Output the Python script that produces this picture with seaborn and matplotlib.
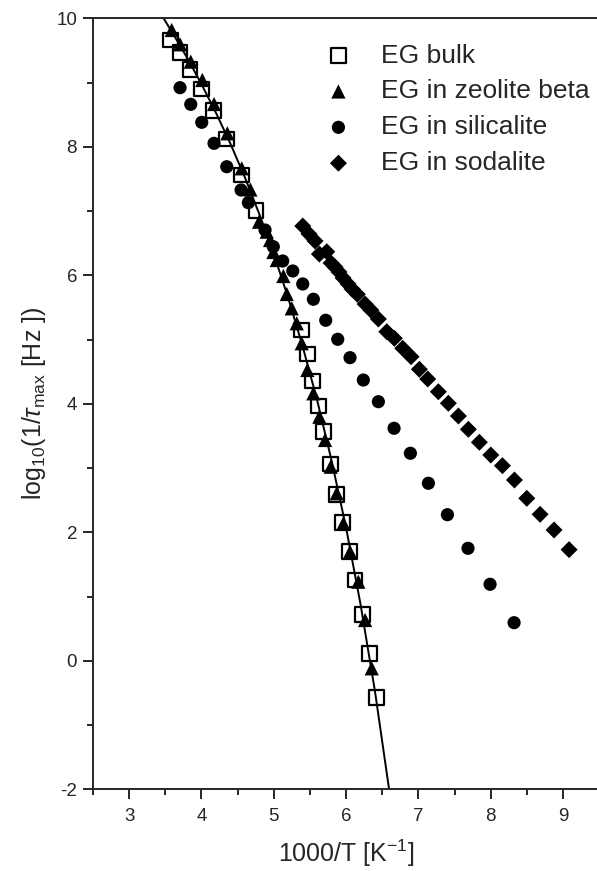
import matplotlib
matplotlib.use("Agg")
import matplotlib.pyplot as plt
from matplotlib.ticker import MultipleLocator
import seaborn as sns

# ---- data ----
bulk_x = [3.566, 3.704, 3.842, 4.004, 4.165, 4.350, 4.548, 4.755, 5.387, 5.465, 5.539,
          5.617, 5.686, 5.779, 5.862, 5.954, 6.046, 6.124, 6.225, 6.322, 6.425]
bulk_y = [9.662, 9.465, 9.206, 8.900, 8.562, 8.121, 7.561, 7.005, 5.149, 4.775, 4.355,
          3.966, 3.566, 3.063, 2.592, 2.150, 1.698, 1.257, 0.723, 0.117, -0.574]

beta_x = [3.589, 3.704, 3.852, 4.012, 4.174, 4.358, 4.557, 4.677, 4.797, 4.903, 4.949,
          4.995, 5.042, 5.133, 5.180, 5.249, 5.318, 5.387, 5.465, 5.548, 5.631, 5.710,
          5.788, 5.871, 5.963, 6.055, 6.170, 6.263, 6.355]
beta_y = [9.818, 9.595, 9.325, 9.040, 8.666, 8.210, 7.665, 7.335, 6.834, 6.679, 6.549,
          6.363, 6.238, 5.989, 5.709, 5.486, 5.253, 4.942, 4.526, 4.163, 3.799, 3.437,
          3.021, 2.607, 2.140, 1.698, 1.231, 0.635, -0.117]

sil_x = [3.704, 3.852, 4.004, 4.174, 4.350, 4.548, 4.649, 4.880, 4.994, 5.124, 5.263,
         5.401, 5.548, 5.719, 5.885, 6.055, 6.239, 6.447, 6.664, 6.890, 7.139, 7.402,
         7.687, 7.992, 8.324]
sil_y = [8.920, 8.661, 8.381, 8.054, 7.690, 7.328, 7.130, 6.705, 6.445, 6.223, 6.067,
         5.865, 5.627, 5.300, 5.004, 4.718, 4.370, 4.033, 3.619, 3.230, 2.763, 2.274,
         1.751, 1.191, 0.593]

sod_x = [5.401, 5.488, 5.571, 5.631, 5.733, 5.793, 5.848, 5.903, 5.959, 6.028, 6.083,
         6.156, 6.263, 6.342, 6.447, 6.563, 6.668, 6.784, 6.899, 7.014, 7.130, 7.277,
         7.415, 7.554, 7.692, 7.844, 8.002, 8.163, 8.329, 8.500, 8.684, 8.877, 9.085]
sod_y = [6.767, 6.643, 6.534, 6.331, 6.367, 6.191, 6.129, 6.051, 5.958, 5.865, 5.787,
         5.704, 5.553, 5.460, 5.320, 5.122, 5.019, 4.864, 4.733, 4.537, 4.386, 4.188,
         4.008, 3.810, 3.603, 3.401, 3.203, 3.037, 2.814, 2.529, 2.280, 2.036, 1.730]

# fit curve through bulk / zeolite beta
fit_x = [3.46, 3.6, 3.8, 4.0, 4.2, 4.4, 4.6, 4.8, 5.0, 5.2, 5.4, 5.6, 5.8, 6.0, 6.2, 6.4, 6.6]
fit_y = [10.03, 9.772, 9.389, 8.976, 8.531, 8.050, 7.526, 6.954, 6.332, 5.647, 4.893,
         4.057, 3.115, 2.074, 0.882, -0.474, -2.037]

labels = ["EG bulk", "EG in zeolite beta", "EG in silicalite", "EG in sodalite"]

# ---- style ----
sns.set_style("ticks")
plt.rcParams["font.family"] = ["Liberation Sans", "DejaVu Sans"]
plt.rcParams["mathtext.fontset"] = "custom"
plt.rcParams["mathtext.rm"] = "Liberation Sans"
plt.rcParams["mathtext.it"] = "Liberation Sans:italic"
plt.rcParams["axes.linewidth"] = 1.4
plt.rcParams["axes.unicode_minus"] = False

fig = plt.figure(figsize=(5.97, 8.71), dpi=100)
ax = fig.add_axes([93 / 597, 1 - 789.3 / 871, 506.1 / 597, 771 / 871])

sns.lineplot(x=fit_x, y=fit_y, sort=False, color="black", linewidth=1.4, ax=ax)
sns.scatterplot(x=bulk_x, y=bulk_y, marker="s", s=115, facecolor="none",
                edgecolor="black", linewidth=1.6, label=labels[0], ax=ax, zorder=3)
sns.scatterplot(x=beta_x, y=beta_y, marker="^", s=105, color="black",
                edgecolor="none", label=labels[1], ax=ax, zorder=4)
sns.scatterplot(x=sil_x, y=sil_y, marker="o", s=90, color="black",
                edgecolor="none", label=labels[2], ax=ax, zorder=5)
sns.scatterplot(x=sod_x, y=sod_y, marker="D", s=75, color="black",
                edgecolor="none", label=labels[3], ax=ax, zorder=5)

ax.set_xlim(2.5, 9.5)
ax.set_ylim(-2, 10)
ax.xaxis.set_major_locator(MultipleLocator(1))
ax.xaxis.set_minor_locator(MultipleLocator(0.5))
ax.yaxis.set_major_locator(MultipleLocator(2))
ax.yaxis.set_minor_locator(MultipleLocator(1))
ax.set_xticks([3, 4, 5, 6, 7, 8, 9])
ax.tick_params(which="major", direction="out", length=7.5, width=1.4, labelsize=13.5, pad=4)
ax.tick_params(axis="x", which="major", pad=6)
ax.tick_params(which="minor", direction="out", length=4.3, width=1.4)
ax.spines["right"].set_visible(False)
ax.spines["top"].set_visible(True)

ax.set_xlabel(r"1000/T [K$^{-1}$]", fontsize=18, labelpad=9)
ax.set_ylabel(r"log$_{10}$(1/$\tau_{\rm max}$ [Hz ])", fontsize=18, labelpad=6)

ax.legend(loc="upper right", bbox_to_anchor=(1.003, 0.981), frameon=False, fontsize=19,
          handlelength=2.0, handletextpad=0.63, labelspacing=0.45, borderaxespad=0.0)

plt.savefig("out.png", dpi=100)
